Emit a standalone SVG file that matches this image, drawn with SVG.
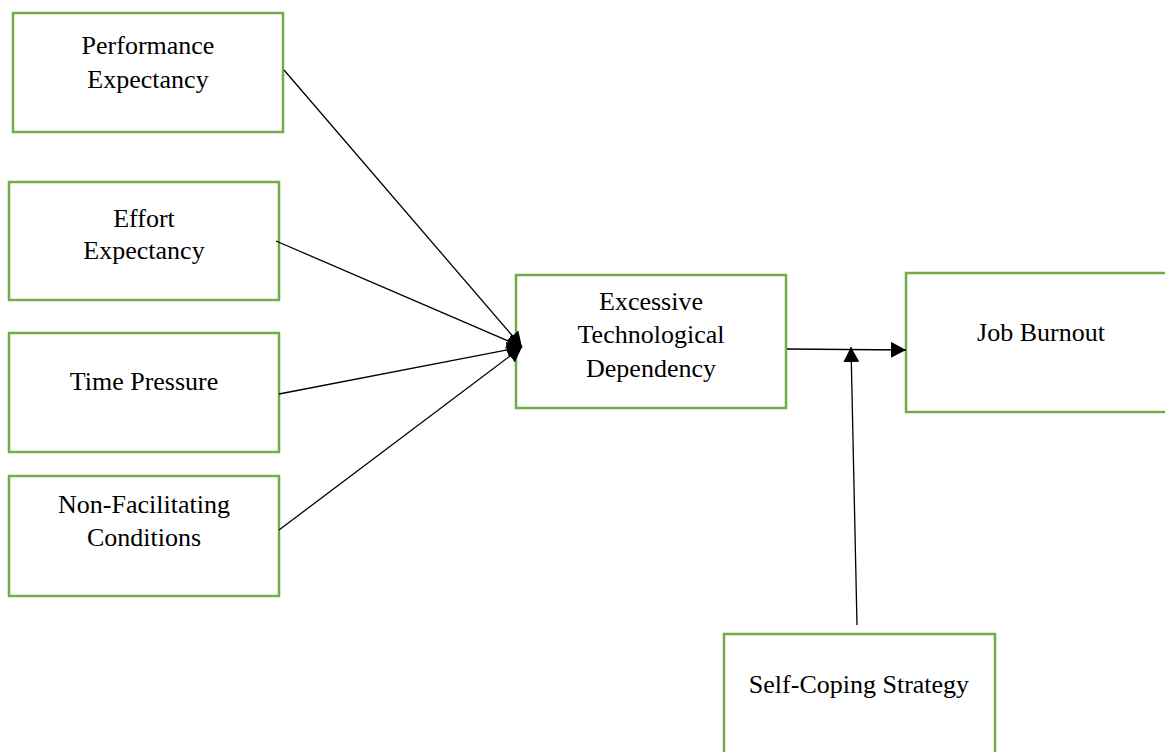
<svg xmlns="http://www.w3.org/2000/svg" width="1165" height="752" viewBox="0 0 1165 752">
<style>
.box{fill:#fff;stroke:#70AD47;stroke-width:2.5}
.t{font-family:"Liberation Serif","Times New Roman",serif;font-size:26px;fill:#000;text-anchor:middle}
.c{stroke:#000;stroke-width:1.3;fill:none;marker-end:url(#ah)}
</style>
<defs>
<marker id="ah" markerUnits="userSpaceOnUse" markerWidth="16" markerHeight="16" refX="15" refY="8" orient="auto">
<path d="M0,0 L15,8 L0,16 Z" fill="#000"/>
</marker>
</defs>
<rect width="1165" height="752" fill="#fff"/>
<g id="n-perf"><rect class="box" x="13" y="13" width="270" height="119"/><text class="t" x="148" y="54">Performance</text><text class="t" x="148" y="88">Expectancy</text></g>
<g id="n-effort"><rect class="box" x="9" y="182" width="270" height="118"/><text class="t" x="144" y="227">Effort</text><text class="t" x="144" y="259">Expectancy</text></g>
<g id="n-time"><rect class="box" x="9" y="333" width="270" height="119"/><text class="t" x="144" y="390">Time Pressure</text></g>
<g id="n-nonfac"><rect class="box" x="9" y="476" width="270" height="120"/><text class="t" x="144" y="513">Non-Facilitating</text><text class="t" x="144" y="546">Conditions</text></g>
<g id="n-etd"><rect class="box" x="516" y="275" width="270" height="133"/><text class="t" x="651" y="310">Excessive</text><text class="t" x="651" y="343">Technological</text><text class="t" x="651" y="377">Dependency</text></g>
<g id="n-burnout"><rect class="box" x="906" y="273" width="270" height="139"/><text class="t" x="1041" y="341">Job Burnout</text></g>
<g id="n-coping"><rect class="box" x="724" y="634" width="271" height="130"/><text class="t" x="859" y="693">Self-Coping Strategy</text></g>
<g id="connectors">
<line class="c" x1="284" y1="70" x2="522" y2="347"/>
<line class="c" x1="276" y1="241" x2="522" y2="347"/>
<line class="c" x1="279" y1="394" x2="522" y2="347"/>
<line class="c" x1="279" y1="530" x2="522" y2="347"/>
<line class="c" x1="787" y1="349" x2="906" y2="350"/>
<line class="c" x1="857" y1="625" x2="851" y2="347"/>
</g>
</svg>
